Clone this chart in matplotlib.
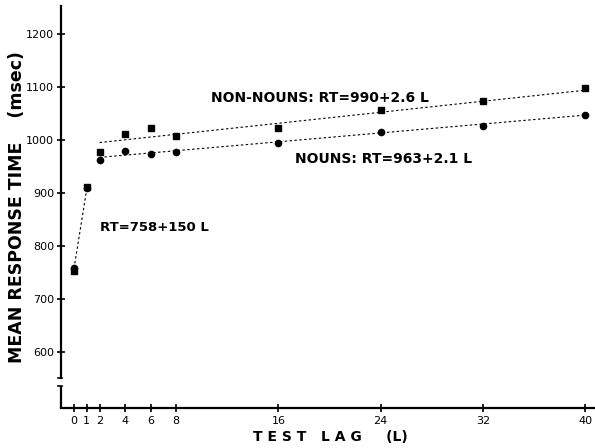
import numpy as np
import matplotlib.pyplot as plt

# mean RT (msec) by test lag
lag = [0, 1, 2, 4, 6, 8, 16, 24, 32, 40]
nouns = [758, 909, 962, 979, 974, 977, 994, 1015, 1026, 1047]
non_nouns = [753, 911, 977, 1011, 1023, 1008, 1023, 1057, 1074, 1098]

# fitted lines
early_fit = (758, 150)      # lags 0-1
nouns_fit = (963, 2.1)      # lags 2-40
non_nouns_fit = (990, 2.6)

xticks = [0, 1, 2, 4, 6, 8, 16, 24, 32, 40]
yticks = [600, 700, 800, 900, 1000, 1100, 1200]

fig = plt.figure(figsize=(5.95, 4.48), dpi=100)
ax = fig.add_axes([61 / 595, 40 / 448, 534 / 595, 402 / 448])
ax.set_xlim(-1.02, 40.77)
ax.set_ylim(494, 1253)

dash = (0, (2.2, 2.2))
lw = 0.8

x_early = np.array([0, 1])
ax.plot(x_early, early_fit[0] + early_fit[1] * x_early, color='black', lw=lw, ls=dash)
x_late = np.array([2, 40])
ax.plot(x_late, nouns_fit[0] + nouns_fit[1] * x_late, color='black', lw=lw, ls=dash)
ax.plot(x_late, non_nouns_fit[0] + non_nouns_fit[1] * x_late, color='black', lw=lw, ls=dash)

ax.plot(lag, non_nouns, ls='none', marker='s', ms=4, color='black')
ax.plot(lag, nouns, ls='none', marker='o', ms=4.5, color='black')

# spines: broken y axis
for s in ['top', 'right']:
    ax.spines[s].set_visible(False)
ax.spines['left'].set_bounds(551, 1253)
ax.spines['left'].set_linewidth(1.6)
ax.spines['bottom'].set_linewidth(1.6)
tr = ax.get_yaxis_transform()
ax.plot([0, 0], [494, 536], transform=tr, color='black', lw=1.6, clip_on=False,
        solid_capstyle='butt')
ax.plot([-0.006, 0.002], [536, 536], transform=tr, color='black', lw=1.2, clip_on=False)
ax.plot([-0.006, 0.002], [551, 551], transform=tr, color='black', lw=1.2, clip_on=False)

ax.set_xticks(xticks)
ax.set_yticks(yticks)
ax.tick_params(direction='inout', length=6, width=1.2, labelsize=8, pad=2)
ax.tick_params(axis='x', pad=3)

ax.set_xlabel('T E S T   L A G     (L)', fontsize=10, fontweight='bold')
ax.xaxis.set_label_coords(0.504, -0.055)
ax.set_ylabel('MEAN RESPONSE TIME    (msec)', fontsize=12.5, fontweight='bold')
ax.yaxis.set_label_coords(-0.066, 0.50)

ax.text(10.7, 1080, 'NON-NOUNS: RT=990+2.6 L', fontsize=10, fontweight='bold',
        ha='left', va='center')
ax.text(17.3, 964, 'NOUNS: RT=963+2.1 L', fontsize=10, fontweight='bold',
        ha='left', va='center')
ax.text(2.0, 835, 'RT=758+150 L', fontsize=9.5, fontweight='bold',
        ha='left', va='center')

fig.savefig('out.png', dpi=100)
